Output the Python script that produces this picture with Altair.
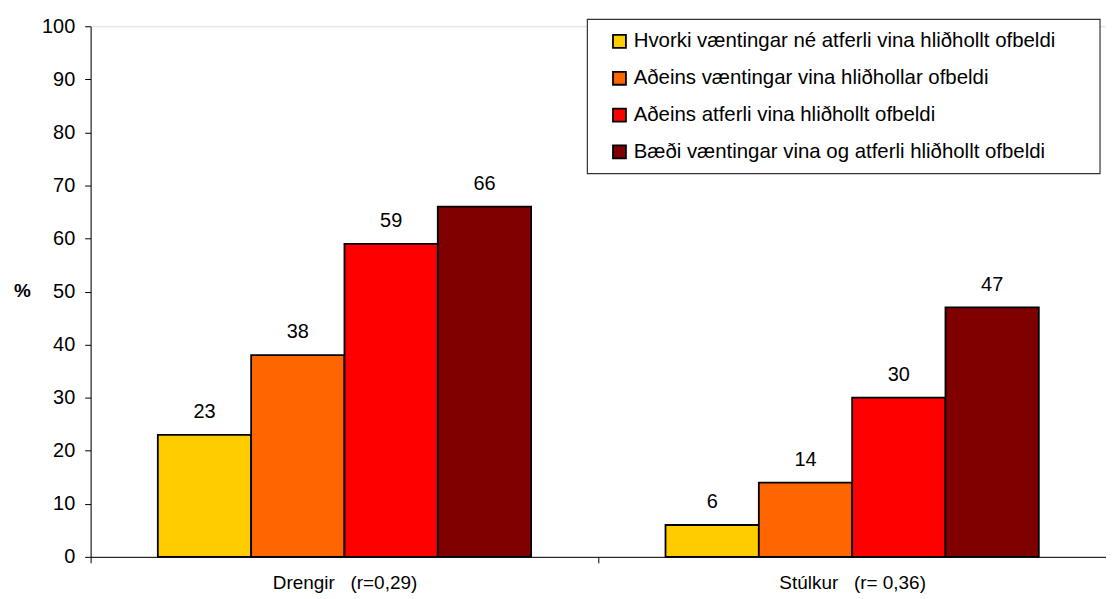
import altair as alt
import pandas as pd

groups = ["Drengir\u00a0\u00a0\u00a0(r=0,29)", "Stúlkur\u00a0\u00a0\u00a0(r=\u00a00,36)"]
series = [
    "Hvorki væntingar né atferli vina hliðhollt ofbeldi",
    "Aðeins væntingar vina hliðhollar ofbeldi",
    "Aðeins atferli vina hliðhollt ofbeldi",
    "Bæði væntingar vina og atferli hliðhollt ofbeldi",
]
drengir = [23, 38, 59, 66]
stulkur = [6, 14, 30, 47]
colors = ["#FFCC00", "#FF6600", "#FF0000", "#800000"]

rows = []
for g, vals in zip(groups, [drengir, stulkur]):
    for s, v in zip(series, vals):
        rows.append({"group": g, "series": s, "value": v})
df = pd.DataFrame(rows)

FONT = "Liberation Sans"

x = alt.X("group:N", sort=groups, title=None,
          scale=alt.Scale(paddingInner=0, paddingOuter=0),
          axis=alt.Axis(labelAngle=0, labelFontSize=19, labelFont=FONT, labelColor="black",
                        labelPadding=11, tickBand="extent", tickSize=6, tickColor="black",
                        domainColor="black", ticks=True, labelBaseline="top"))
xo = alt.XOffset("series:N", sort=series, scale=alt.Scale(paddingInner=0, paddingOuter=0.72))
y = alt.Y("value:Q", title="%",
          scale=alt.Scale(domain=[0, 100], nice=False),
          axis=alt.Axis(values=list(range(0, 101, 10)), grid=False, labelFontSize=20,
                        labelFont=FONT, labelColor="black", tickSize=6, tickColor="black",
                        domainColor="black", labelPadding=10,
                        titleAngle=0, titleFontSize=19, titleFont=FONT, titleFontWeight="bold",
                        titleX=-69, titleY=265, titleAlign="center", titleBaseline="middle"))

box = alt.Chart(pd.DataFrame({"a": [0]})).mark_rect(
    fill="white", stroke="#333333", strokeWidth=1.2
).encode(x=alt.value(499), x2=alt.value(1014), y=alt.value(-7), y2=alt.value(148))

bars = alt.Chart(df).mark_bar(stroke="black", strokeWidth=1.8).encode(
    x=x, xOffset=xo, y=y,
    color=alt.Color("series:N", sort=series,
                    scale=alt.Scale(domain=series, range=colors),
                    legend=alt.Legend(title=None, orient="none", legendX=521, legendY=5,
                                      padding=0,
                                      labelFontSize=20.5, labelFont=FONT, labelColor="black",
                                      symbolType="square", symbolSize=169, symbolStrokeColor="black",
                                      symbolStrokeWidth=1.8, rowPadding=16, labelLimit=600,
                                      symbolOffset=0, labelOffset=4)),
)

labels = alt.Chart(df).mark_text(dy=-17, fontSize=20, font=FONT, color="black", baseline="alphabetic").encode(
    x=alt.X("group:N", sort=groups), xOffset=xo, y="value:Q", text="value:Q"
)

chart = alt.layer(box, bars, labels).properties(
    width=1020, height=533,
    padding={"left": 83, "top": 17, "right": 0, "bottom": 40},
    autosize=alt.AutoSizeParams(type="none"),
).configure_view(stroke=None).configure(font=FONT)

chart.save("out.html", embed_options={"renderer": "svg", "actions": False})
